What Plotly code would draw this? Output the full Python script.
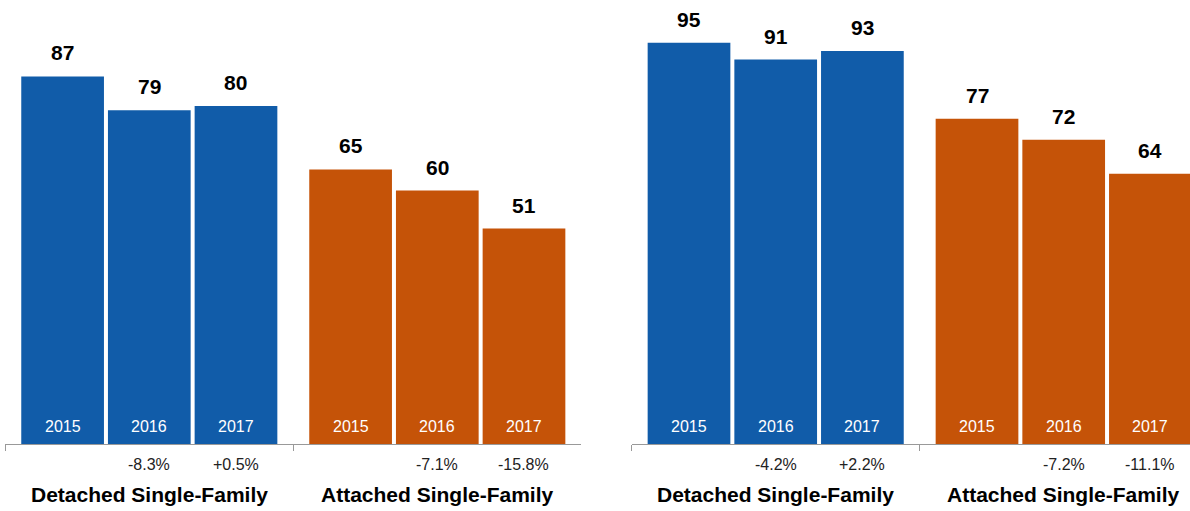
import plotly.graph_objects as go

# ---------------- data ----------------
categories = ["Detached Single-Family", "Attached Single-Family"]
years = ["2015", "2016", "2017"]

left_detached = [87, 79, 80]
left_attached = [65, 60, 51]
left_detached_change = ["", "-8.3%", "+0.5%"]
left_attached_change = ["", "-7.1%", "-15.8%"]

right_detached = [95, 91, 93]
right_attached = [77, 72, 64]
right_detached_change = ["", "-4.2%", "+2.2%"]
right_attached_change = ["", "-7.2%", "-11.1%"]

# ---------------- style ----------------
BLUE = "#115CA9"
ORANGE = "#C55308"
FONT = "Helvetica Neue, Liberation Sans, Arial, sans-serif"
W, H = 1190, 511
BARGAP = 0.097
BARGROUPGAP = 0.046
SLOT = 288.0                     # px per category
BAR_STEP = SLOT * (1 - BARGAP) / 3  # px between bar centres in a group
Y_MAX = 105.1

fig = go.Figure()

panels = [
    ("x", "y", left_detached, left_attached, left_detached_change, left_attached_change),
    ("x2", "y2", right_detached, right_attached, right_detached_change, right_attached_change),
]

annotations = []
for xa, ya, det, att, det_ch, att_ch in panels:
    for i, yr in enumerate(years):
        fig.add_trace(go.Bar(
            x=categories, y=[det[i], att[i]],
            marker=dict(color=[BLUE, ORANGE], line=dict(width=0)),
            xaxis=xa, yaxis=ya, showlegend=False, name=yr,
            hoverinfo="skip",
        ))
        shift = (i - 1) * BAR_STEP
        for cat, val, ch in ((categories[0], det[i], det_ch[i]), (categories[1], att[i], att_ch[i])):
            # value above the bar
            annotations.append(dict(
                x=cat, y=val, xref=xa, yref=ya, xshift=shift, yshift=10,
                yanchor="bottom", showarrow=False,
                text=f"<b>{val}</b>", font=dict(family=FONT, size=21, color="#000000"),
            ))
            # year inside bar bottom
            annotations.append(dict(
                x=cat, y=0, xref=xa, yref=ya, xshift=shift, yshift=18,
                yanchor="middle", showarrow=False,
                text=yr, font=dict(family=FONT, size=16, color="#FFFFFF"),
            ))
            # percent change below axis
            if ch:
                annotations.append(dict(
                    x=cat, y=0, xref=xa, yref=ya, xshift=shift, yshift=-20,
                    yanchor="middle", showarrow=False,
                    text=ch, font=dict(family=FONT, size=16, color="#222222"),
                ))
    for cat in categories:
        annotations.append(dict(
            x=cat, y=0, xref=xa, yref=ya, yshift=-50,
            yanchor="middle", showarrow=False,
            text=f"<b>{cat}</b>", font=dict(family=FONT, size=21, color="#000000"),
        ))

axis_common = dict(
    type="category", showgrid=False, zeroline=False, showticklabels=False,
    showline=True, linecolor="#999999", linewidth=1,
    ticks="outside", tickson="boundaries", ticklen=6, tickcolor="#999999", tickwidth=1,
    fixedrange=True,
)
yaxis_common = dict(range=[0, Y_MAX], visible=False, showgrid=False, zeroline=False, fixedrange=True)

right_start = 631.7
fig.update_layout(
    width=W, height=H,
    margin=dict(l=0, r=0, t=0, b=67, pad=0),
    paper_bgcolor="white", plot_bgcolor="white",
    barmode="group", bargap=BARGAP, bargroupgap=BARGROUPGAP,
    xaxis=dict(domain=[5.3 / W, 581.3 / W], range=[-0.5, 1.5], anchor="y", **axis_common),
    yaxis=dict(domain=[0, 1], anchor="x", **yaxis_common),
    xaxis2=dict(domain=[right_start / W, 1.0], range=[-0.5, -0.5 + (W - right_start) / SLOT],
                anchor="y2", **axis_common),
    yaxis2=dict(domain=[0, 1], anchor="x2", **yaxis_common),
    annotations=annotations,
    font=dict(family=FONT),
)

fig.write_html(
    "out.html",
    config={"displayModeBar": False},
    post_script="document.body.style.margin='0px';document.body.style.padding='0px';",
)
